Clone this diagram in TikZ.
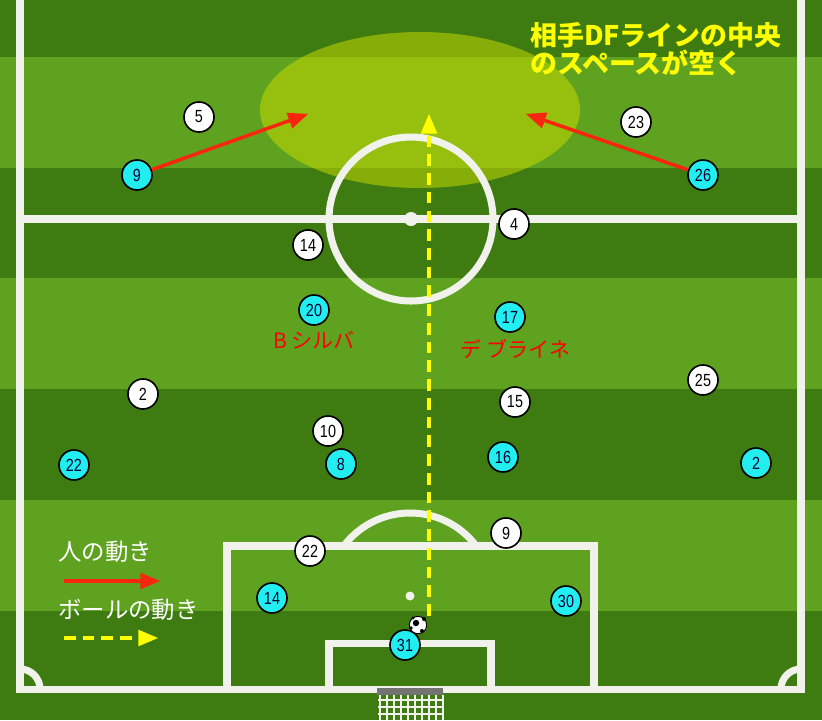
\documentclass[tikz,border=0pt]{standalone}
\usepackage{fontspec}
\setmainfont{Liberation Sans}
\newfontfamily\numfont[FakeStretch=0.82]{Liberation Sans}
\newfontfamily\jp{Noto Sans CJK JP}
\usetikzlibrary{arrows,positioning}

\definecolor{darkturf}{HTML}{3E7C12}
\definecolor{lightturf}{HTML}{5EA220}
\definecolor{chalk}{HTML}{F2F2EC}
\definecolor{sky}{HTML}{22EEF0}
\definecolor{run}{HTML}{F8260E}
\definecolor{pass}{HTML}{FFFF00}
\definecolor{gap}{HTML}{C4D800}

\begin{document}
\begin{tikzpicture}[x=0.03cm,y=-0.03cm,>=triangle 45,
    own/.style={circle,draw=black,line width=1.4pt,fill=sky,minimum size=0.9cm,inner sep=0pt,
                text=black!80!blue,font=\numfont\fontsize{15}{15}\selectfont},
    opp/.style={own,fill=white,text=black},
    chalkline/.style={draw=chalk,line width=6pt},
    tag/.style={text=red,font=\jp\fontsize{18}{18}\selectfont},
    legend/.style={text=white,anchor=west,font=\jp\fontsize{20}{20}\selectfont}]
    \useasboundingbox (0,0) rectangle (822,720);
    % turf
    \fill[darkturf] (0,0) rectangle (822,720);
    \foreach \y in {57,278,500}
        \fill[lightturf] (0,\y) rectangle (822,\y+111);
    % free space
    \fill[gap,opacity=0.55] (420,110) ellipse [x radius=160,y radius=78];
    % pitch
    \draw[chalkline] (20,-10) -- (20,689) -- (801,689) -- (801,-10);
    \draw[chalkline] (20,219) -- (801,219);
    \draw[chalkline] (411,219) circle [radius=82];
    \fill[chalk] (411,219) circle [radius=7];
    \draw[chalkline] (227,689) -- (227,546) -- (594,546) -- (594,689);
    \draw[chalkline] (329,689) -- (329,643) -- (491,643) -- (491,689);
    \fill[chalk] (410,596) circle [radius=4.5];
    \begin{scope}
        \clip (0,0) rectangle (822,546);
        \draw[chalkline] (410,596) circle [radius=83];
    \end{scope}
    \begin{scope}
        \clip (20,0) rectangle (801,689);
        \draw[chalkline] (20,689) circle [radius=20];
        \draw[chalkline] (801,689) circle [radius=20];
    \end{scope}
    % goal
    \fill[black!55] (377,688) rectangle (443,695);
    \foreach \x in {380,387,...,443}
        \draw[chalk,line width=1.2pt] (\x,695) -- (\x,720);
    \foreach \y in {700,707,...,720}
        \draw[chalk,line width=1.2pt] (378,\y) -- (443,\y);

    % opponents
    \node[opp] (w5)  at (199,117) {5};
    \node[opp] (w23) at (636,122) {23};
    \node[opp] (w4)  at (514,224) {4};
    \node[opp] (w14) at (308,245) {14};
    \node[opp] (w2)  at (143,394) {2};
    \node[opp] (w25) at (703,380) {25};
    \node[opp] (w15) at (515,402) {15};
    \node[opp] (w10) at (328,431) {10};
    \node[opp] (w9)  at (506,533) {9};
    \node[opp] (w22) at (310,551) {22};
    % own team
    \node[own] (c9)  at (137,175) {9};
    \node[own] (c26) at (703,175) {26};
    \node[own] (c20) at (314,310) {20};
    \node[own] (c17) at (510,317) {17};
    \node[own] (c22) at (74,465)  {22};
    \node[own] (c8)  at (341,464) {8};
    \node[own] (c16) at (503,457) {16};
    \node[own] (c2)  at (756,463) {2};
    \node[own] (c14) at (272,598) {14};
    \node[own] (c30) at (566,601) {30};
    \node[own] (c31) at (405,645) {31};
    \node[tag] (silva) [below=1pt of c20] {B シルバ};
    \node[tag] (kdb) [below=2pt of c17,xshift=5pt] {デ ブライネ};

    % ball
    \node[circle,draw=black,fill=white,line width=0.8pt,minimum size=0.52cm,inner sep=0pt] (ball) at (418,625) {};
    \fill[black] (416,623) circle [radius=3.2] (424,619) circle [radius=2] (422,631) circle [radius=2]
        (411,628) circle [radius=1.8] (413,618) circle [radius=1.6];

    % runs and pass
    \coordinate (gapL) at (308,114);
    \coordinate (gapR) at (526,114);
    \coordinate (gapC) at (429,114);
    \draw[->,run,line width=3pt] (c9) -- (gapL);
    \draw[->,run,line width=3pt] (c26) -- (gapR);
    \draw[->,pass,line width=3pt,dash pattern=on 10pt off 6pt] (ball.north -| gapC) -- (gapC);

    % key
    \node[text=pass,anchor=west,align=left,font=\jp\bfseries\fontsize{23}{24}\selectfont] (note) at (526,49)
        {相手DFラインの中央\\のスペースが空く};
    \node[legend] (keyrun) at (54,552) {人の動き};
    \node[legend] (keypass) at (54,610) {ボールの動き};
    \coordinate (r0) at (64,581);  \coordinate (r1) at (160,581);
    \coordinate (p0) at (64,638);  \coordinate (p1) at (158,638);
    \draw[->,run,line width=3pt] (r0) -- (r1);
    \draw[->,pass,line width=3pt,dash pattern=on 10pt off 6pt] (p0) -- (p1);
\end{tikzpicture}
\end{document}
